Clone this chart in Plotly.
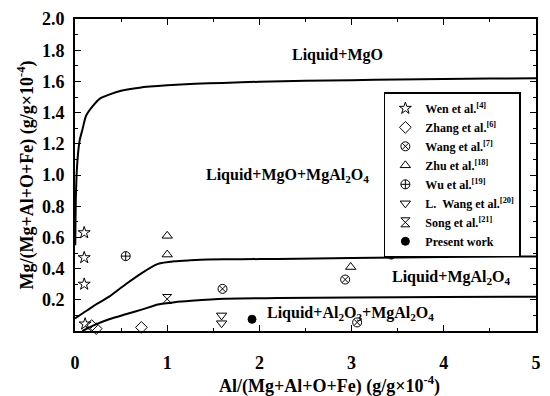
"""Mg-Al-O phase stability diagram in liquid steel with literature data."""

import plotly.graph_objects as go

# Phase boundaries (x: Al, y: Mg, both g/g x 1e-4)
upper_x = [0.003, 0.01, 0.025, 0.05, 0.08, 0.12, 0.19, 0.27, 0.37, 0.5, 0.7, 1.0,
           1.3, 1.6, 2.0, 2.5, 3.0, 3.5, 4.0, 4.5, 5.0]
upper_y = [0.55, 0.87, 1.08, 1.22, 1.29, 1.38, 1.44, 1.49, 1.515, 1.54, 1.56, 1.575,
           1.585, 1.59, 1.598, 1.604, 1.608, 1.612, 1.615, 1.618, 1.62]

middle_x = [0.0, 0.1, 0.2, 0.37, 0.55, 0.72, 0.9, 1.08, 1.25, 1.44, 1.8, 2.2, 3.0, 4.0, 5.0]
middle_y = [0.08, 0.12, 0.16, 0.22, 0.30, 0.37, 0.43, 0.447, 0.453, 0.458, 0.46, 0.462,
            0.468, 0.474, 0.478]

lower_x = [0.08, 0.19, 0.37, 0.55, 0.74, 0.9, 1.08, 1.26, 1.62, 2.2, 3.0, 4.0, 5.0]
lower_y = [0.0, 0.033, 0.075, 0.107, 0.14, 0.17, 0.185, 0.194, 0.207, 0.211, 0.215,
           0.218, 0.22]

# Literature / measured points
wen_x = [0.1, 0.1, 0.1, 0.11]
wen_y = [0.63, 0.47, 0.30, 0.045]
zhang_x = [0.18, 0.23, 0.72]
zhang_y = [0.035, 0.015, 0.023]
wang_x = [1.6, 2.93, 3.06]
wang_y = [0.27, 0.33, 0.055]
zhu_x = [1.0, 1.0, 2.99]
zhu_y = [0.61, 0.49, 0.41]
wu_x = [0.55, 3.43]
wu_y = [0.48, 0.49]
lwang_x = [1.59, 1.59]
lwang_y = [0.10, 0.05]
song_x = [1.0]
song_y = [0.205]
present_x = [1.92]
present_y = [0.075]

SERIF = "Liberation Serif, Times New Roman, serif"

fig = go.Figure()

for bx, by in [(upper_x, upper_y), (middle_x, middle_y), (lower_x, lower_y)]:
    fig.add_trace(go.Scatter(x=bx, y=by, mode="lines",
                             line=dict(color="black", width=2, shape="spline", smoothing=0.6),
                             showlegend=False, hoverinfo="skip"))

series = [
    ("Wen et al.<sup>[4]</sup>", wen_x, wen_y, "star-open", 9),
    ("Zhang et al.<sup>[6]</sup>", zhang_x, zhang_y, "diamond-open", 9),
    ("Wang et al.<sup>[7]</sup>", wang_x, wang_y, "circle-x-open", 9),
    ("Zhu et al.<sup>[18]</sup>", zhu_x, zhu_y, "triangle-up-open", 9),
    ("Wu et al.<sup>[19]</sup>", wu_x, wu_y, "circle-cross-open", 9),
    ("L.  Wang et al.<sup>[20]</sup>", lwang_x, lwang_y, "triangle-down-open", 9),
    ("Song et al.<sup>[21]</sup>", song_x, song_y, "hourglass-open", 9),
    ("Present work", present_x, present_y, "circle", 8),
]
for name, sx, sy, sym, sz in series:
    fig.add_trace(go.Scatter(
        x=sx, y=sy, mode="markers", name=name,
        marker=dict(symbol=sym, size=sz, color="black", line=dict(color="black", width=1)),
        cliponaxis=False,
    ))

labels = [
    (2.85, 1.77, "Liquid+MgO"),
    (2.31, 1.0, "Liquid+MgO+MgAl<sub>2</sub>O<sub>4</sub>"),
    (4.08, 0.345, "Liquid+MgAl<sub>2</sub>O<sub>4</sub>"),
    (2.99, 0.11, "Liquid+Al<sub>2</sub>O<sub>3</sub>+MgAl<sub>2</sub>O<sub>4</sub>"),
]
for lx, ly, txt in labels:
    fig.add_annotation(x=lx, y=ly, text=f"<b>{txt}</b>", showarrow=False,
                       font=dict(family=SERIF, size=16, color="black"))

# x-axis title sits a little right of centre in the original
fig.add_annotation(x=0.553, y=-0.172, xref="paper", yref="paper", showarrow=False,
                   xanchor="center", yanchor="middle",
                   text="<b>Al/(Mg+Al+O+Fe) (g/g×10<sup>-4</sup>)</b>",
                   font=dict(family=SERIF, size=18, color="black"))

fig.update_layout(
    width=550, height=396,
    margin=dict(l=75, r=9, t=12, b=65),
    paper_bgcolor="white", plot_bgcolor="white",
    font=dict(family=SERIF, color="black"),
    legend=dict(
        x=0.67, y=0.765, xanchor="left", yanchor="top",
        bordercolor="black", borderwidth=1.5, bgcolor="white",
        font=dict(family=SERIF, size=12, color="black", weight="bold"),
        tracegroupgap=0,
    ),
)
axis_common = dict(
    showline=True, linecolor="black", linewidth=2, mirror="ticks",
    ticks="inside", ticklen=6, tickwidth=1.2, tickcolor="black",
    showgrid=False, zeroline=False,
    tickfont=dict(family=SERIF, size=18, color="black", weight="bold"),
)
fig.update_xaxes(
    range=[0, 5], tickvals=[0, 1, 2, 3, 4, 5], ticklabelstandoff=14,
    minor=dict(dtick=0.5, ticks="inside", ticklen=3, tickcolor="black"),
    **axis_common,
)
fig.update_yaxes(
    range=[0, 2], tickvals=[0.2, 0.4, 0.6, 0.8, 1.0, 1.2, 1.4, 1.6, 1.8, 2.0],
    tickformat=".1f", ticklabelstandoff=5,
    minor=dict(dtick=0.1, ticks="inside", ticklen=3, tickcolor="black"),
    title=dict(text="<b>Mg/(Mg+Al+O+Fe) (g/g×10<sup>-4</sup>)</b>",
               font=dict(family=SERIF, size=18, color="black"), standoff=4),
    **axis_common,
)

fig.write_html("out.html", config={"displayModeBar": False},
               post_script="document.body.style.margin='0';")
